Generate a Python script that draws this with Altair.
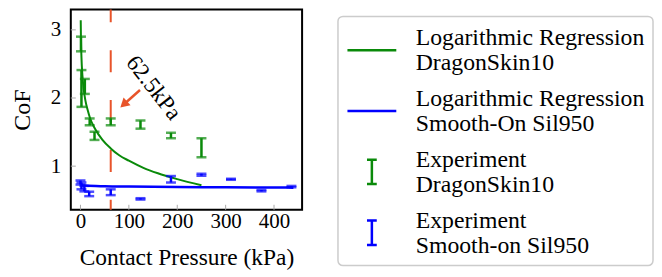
import altair as alt
import pandas as pd

# ---- data ----
# Experiment DragonSkin10 (error bars)
ds_x = [1, 2, 9, 19, 29, 62.5, 124, 187, 250]
ds_lo = [2.685, 1.87, 2.06, 1.60, 1.385, 1.60, 1.55, 1.41, 1.13]
ds_hi = [2.90, 2.41, 2.28, 1.70, 1.505, 1.70, 1.67, 1.49, 1.41]

# Experiment Smooth-on Sil950 (error bars)
sil_x = [0, 2, 8, 18, 62.5, 124, 187, 250, 311, 374, 436]
sil_lo = [0.73, 0.66, 0.63, 0.56, 0.575, 0.51, 0.76, 0.86, 0.80, 0.63, 0.69]
sil_hi = [0.79, 0.76, 0.71, 0.625, 0.66, 0.53, 0.855, 0.89, 0.815, 0.65, 0.71]

# Logarithmic regression curves
ds_fit_x = [0.5, 1, 2, 4, 7, 10, 15, 20, 30, 45, 62.5, 80, 100, 130, 160, 200, 250]
ds_fit_y = [3.14, 2.87, 2.60, 2.33, 2.11, 1.97, 1.82, 1.70, 1.55, 1.39, 1.26, 1.16,
            1.08, 0.975, 0.895, 0.81, 0.72]
sil_fit_x = [1, 10, 50, 100, 200, 300, 440]
sil_fit_y = [0.725, 0.715, 0.705, 0.70, 0.695, 0.69, 0.685]

threshold_x = [62.5]
annot_text = ["62.5kPa"]
annot_x = [151]
annot_y = [2.15]
arrow_tail = (123, 2.117)
arrow_head = (89.3, 1.905)

series_names = [
    "Logarithmic Regression|DragonSkin10",
    "Logarithmic Regression|Smooth-On Sil950",
    "Experiment|DragonSkin10",
    "Experiment|Smooth-on Sil950",
]
x_ticks = [0, 100, 200, 300, 400]
y_ticks = [1, 2, 3]

GREEN = "#0a8a0a"
BLUE = "#0000ff"
RED = "#e8542a"
FONT = "Liberation Serif"
W, H = 232, 201

xs = alt.Scale(domain=[-20, 458], nice=False, zero=False)
ys = alt.Scale(domain=[0.36, 3.30], nice=False, zero=False)
x_axis = alt.Axis(values=x_ticks, ticks=False, domain=False, grid=False,
                  labelFont=FONT, labelFontSize=21, labelColor="black", labelPadding=1,
                  title="Contact Pressure (kPa)", titleFont=FONT, titleFontSize=23.5,
                  titleFontWeight="normal", titleColor="black", titlePadding=14)
y_axis = alt.Axis(values=y_ticks, ticks=False, domain=False, grid=False,
                  labelFont=FONT, labelFontSize=21, labelColor="black", labelPadding=10,
                  title="CoF", titleFont=FONT, titleFontSize=24,
                  titleFontWeight="normal", titleColor="black", titlePadding=16)


def X(field):
    return alt.X(f"{field}:Q", scale=xs, axis=x_axis)


def Y(field):
    return alt.Y(f"{field}:Q", scale=ys, axis=y_axis)


ds_df = pd.DataFrame({"x": ds_x, "lo": ds_lo, "hi": ds_hi})
sil_df = pd.DataFrame({"x": sil_x, "lo": sil_lo, "hi": sil_hi})
ds_fit = pd.DataFrame({"x": ds_fit_x, "y": ds_fit_y})
sil_fit = pd.DataFrame({"x": sil_fit_x, "y": sil_fit_y})

layers = []

# inward tick marks
layers.append(alt.Chart(pd.DataFrame({"x": x_ticks})).mark_rule(color="#aaaaaa", strokeWidth=1)
              .encode(x=X("x"), y=alt.value(H), y2=alt.value(H - 5)))
layers.append(alt.Chart(pd.DataFrame({"y": y_ticks})).mark_rule(color="#aaaaaa", strokeWidth=1)
              .encode(y=Y("y"), x=alt.value(0), x2=alt.value(5)))

# threshold dashed line
layers.append(alt.Chart(pd.DataFrame({"x": threshold_x})).mark_rule(
    color=RED, strokeWidth=2, strokeDash=[22, 28], strokeDashOffset=9).encode(x=X("x")))

# regression lines
layers.append(alt.Chart(ds_fit).mark_line(color=GREEN, strokeWidth=2, interpolate="monotone")
              .encode(x=X("x"), y=Y("y")))
layers.append(alt.Chart(sil_fit).mark_line(color=BLUE, strokeWidth=2.5, interpolate="monotone")
              .encode(x=X("x"), y=Y("y")))

# error bars
for df, col in [(ds_df, GREEN), (sil_df, BLUE)]:
    base = alt.Chart(df)
    layers.append(base.mark_rule(color=col, strokeWidth=2.5).encode(x=X("x"), y=Y("lo"), y2="hi"))
    layers.append(base.mark_tick(color=col, thickness=2.5, size=10, orient="horizontal")
                  .encode(x=X("x"), y=Y("lo")))
    layers.append(base.mark_tick(color=col, thickness=2.5, size=10, orient="horizontal")
                  .encode(x=X("x"), y=Y("hi")))

# annotation
layers.append(alt.Chart(pd.DataFrame({"x": annot_x, "y": annot_y, "t": annot_text}))
              .mark_text(angle=52, font=FONT, fontSize=23, color="black",
                         align="center", baseline="middle")
              .encode(x=X("x"), y=Y("y"), text="t:N"))
arrow_df = pd.DataFrame({"x": [arrow_tail[0]], "y": [arrow_tail[1]],
                         "x2": [arrow_head[0]], "y2": [arrow_head[1]]})
layers.append(alt.Chart(arrow_df).mark_rule(color=RED, strokeWidth=2.5)
              .encode(x=X("x"), y=Y("y"), x2="x2", y2="y2"))
layers.append(alt.Chart(arrow_df).mark_point(shape="triangle-up", filled=True, color=RED,
                                             size=110, angle=228, opacity=1)
              .encode(x=X("x2"), y=Y("y2")))

# legend layer
line_path = "M-1,0L1,0"
ibeam_path = "M-0.2,-0.5L0.2,-0.5M0,-0.5L0,0.5M-0.2,0.5L0.2,0.5"
legend = alt.Legend(title=None, orient="none", legendX=268, legendY=7,
                    labelExpr="split(replace(datum.label, '|', '  |') + '  ', '|')",
                    labelBaseline="bottom",
                    labelFont=FONT, labelFontSize=23.8, labelColor="black", labelLimit=500,
                    labelOffset=18, symbolSize=2401, symbolStrokeWidth=2.5,
                    symbolOpacity=1, rowPadding=10, padding=8,
                    strokeColor="#cccccc", cornerRadius=5)
layers.append(alt.Chart(pd.DataFrame({"series": series_names})).mark_point(
    filled=False, opacity=0).encode(
    color=alt.Color("series:N", scale=alt.Scale(domain=series_names,
                                                range=[GREEN, BLUE, GREEN, BLUE]),
                    legend=legend),
    shape=alt.Shape("series:N", scale=alt.Scale(domain=series_names,
                                                range=[line_path, line_path, ibeam_path, ibeam_path]),
                    legend=legend),
))

chart = alt.layer(*layers).properties(
    width=W, height=H, padding={"left": 2, "top": 0, "right": 0, "bottom": 0}
).configure(
    style={"guide-label": {"lineHeight": 25}}
).configure_view(stroke="black", strokeWidth=2).configure_legend(strokeWidth=1.5)

chart.save("out.html", embed_options={"renderer": "svg", "actions": False})
